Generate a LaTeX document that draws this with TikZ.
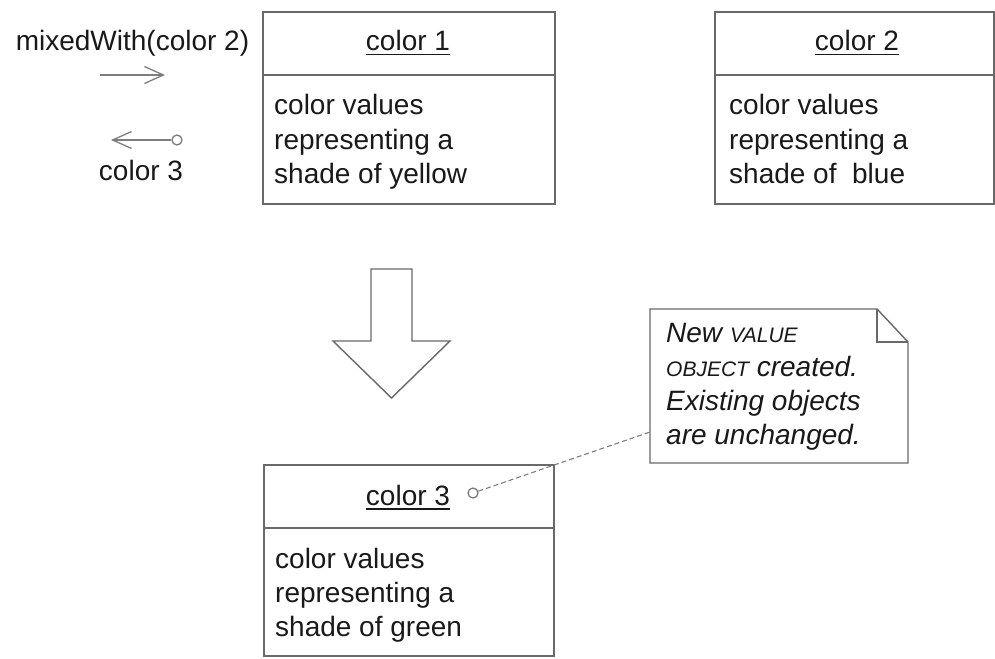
\documentclass[tikz,border=0pt]{standalone}
\usepackage{fontspec}
\setmainfont{Liberation Sans}
\usetikzlibrary{arrows.meta}
\definecolor{lnc}{RGB}{105,105,105}
\definecolor{lnl}{RGB}{125,125,125}
\definecolor{txc}{RGB}{25,25,25}
\newcommand{\ulbox}[1]{\setbox0=\hbox{#1}\rlap{\rule[-4.5pt]{\wd0}{1.8pt}}\box0}
\begin{document}
\begin{tikzpicture}[x=1pt,y=-1pt,
  ln/.style={draw=lnc, line width=1.6pt},
  umlbox/.style={ln, rectangle, inner sep=0pt, anchor=north west},
  txt/.style={inner sep=0pt, text=txc, font=\fontsize{28}{34}\selectfont},
  ntxt/.style={inner sep=0pt, text=txc, anchor=base west, font=\fontsize{28}{34}\selectfont\itshape},
  smc/.style={},
  thinln/.style={draw=lnl, line width=1.3pt},
  barb/.style={-{Straight Barb[length=19pt,width=17pt,line width=1.3pt]}},
  lolli/.style={circle, draw=lnl, line width=1.3pt, minimum size=10pt, inner sep=0pt, fill=white}
]
\useasboundingbox (0,0) rectangle (995,658);

% box color 1
\node[umlbox, minimum width=292pt, minimum height=192pt] (b1) at (262,11) {};
\draw[ln] (262,75) -- (554,75);
\node[txt, anchor=base] (h1) at (408,51) {\ulbox{color 1}};
\node[txt, anchor=base west] (t1a) at (274,115) {color values};
\node[txt, anchor=base west] (t1b) at (274,149) {representing a};
\node[txt, anchor=base west] (t1c) at (274,183) {shade of yellow};

% box color 2
\node[umlbox, minimum width=279pt, minimum height=192pt] (b2) at (714,11) {};
\draw[ln] (714,75) -- (993,75);
\node[txt, anchor=base] (h2) at (857,51) {\ulbox{color 2}};
\node[txt, anchor=base west] (t2a) at (729,115) {color values};
\node[txt, anchor=base west] (t2b) at (729,149) {representing a};
\node[txt, anchor=base west] (t2c) at (729,183) {shade of \ blue};

% box color 3
\node[umlbox, minimum width=290pt, minimum height=191pt] (b3) at (263,464) {};
\draw[ln] (263,528) -- (553,528);
\node[txt, anchor=base] (h3) at (408,505) {\ulbox{color 3}};
\node[txt, anchor=base west] (t3a) at (275,568) {color values};
\node[txt, anchor=base west] (t3b) at (275,602) {representing a};
\node[txt, anchor=base west] (t3c) at (275,636) {shade of green};

% message labels and arrows
\node[txt, anchor=base] (m1) at (132.5,51) {mixedWith(color 2)};
\coordinate (a1s) at (100,75);
\coordinate (a1e) at (165,75);
\draw[thinln, barb] (a1s) -- (a1e);
\node[lolli] (o1) at (177,140) {};
\coordinate (a2e) at (111,140);
\draw[thinln, barb] (o1) -- (a2e);
\node[txt, anchor=base] (m2) at (141,180) {color 3};

% big hollow arrow
\draw[ln, line width=1.4pt, line join=miter] (371,269) -- (412,269) -- (412,341) -- (450,341) -- (391.5,398) -- (333,341) -- (371,341) -- cycle;

% note
\draw[ln, line width=1.4pt, fill=white] (650,309) -- (877,309) -- (908,342) -- (908,463) -- (650,463) -- cycle;
\draw[ln, line width=1.4pt] (877,309) -- (877,342) -- (908,342);
\node[ntxt] (n1) at (666,342) {New {\fontsize{21}{25}\selectfont VALUE}};
\node[ntxt] (n2) at (666,376) {{\fontsize{21}{25}\selectfont OBJECT} created.};
\node[ntxt] (n3) at (666,410) {Existing objects};
\node[ntxt] (n4) at (666,444) {are unchanged.};
\coordinate (nl) at (650,432);

% lollipop on color 3 and dashed anchor line
\node[lolli] (o3) at (473,493) {};
\draw[draw=lnl, line width=1.1pt, dash pattern=on 5pt off 3pt] (o3) -- (nl);
\end{tikzpicture}
\end{document}
